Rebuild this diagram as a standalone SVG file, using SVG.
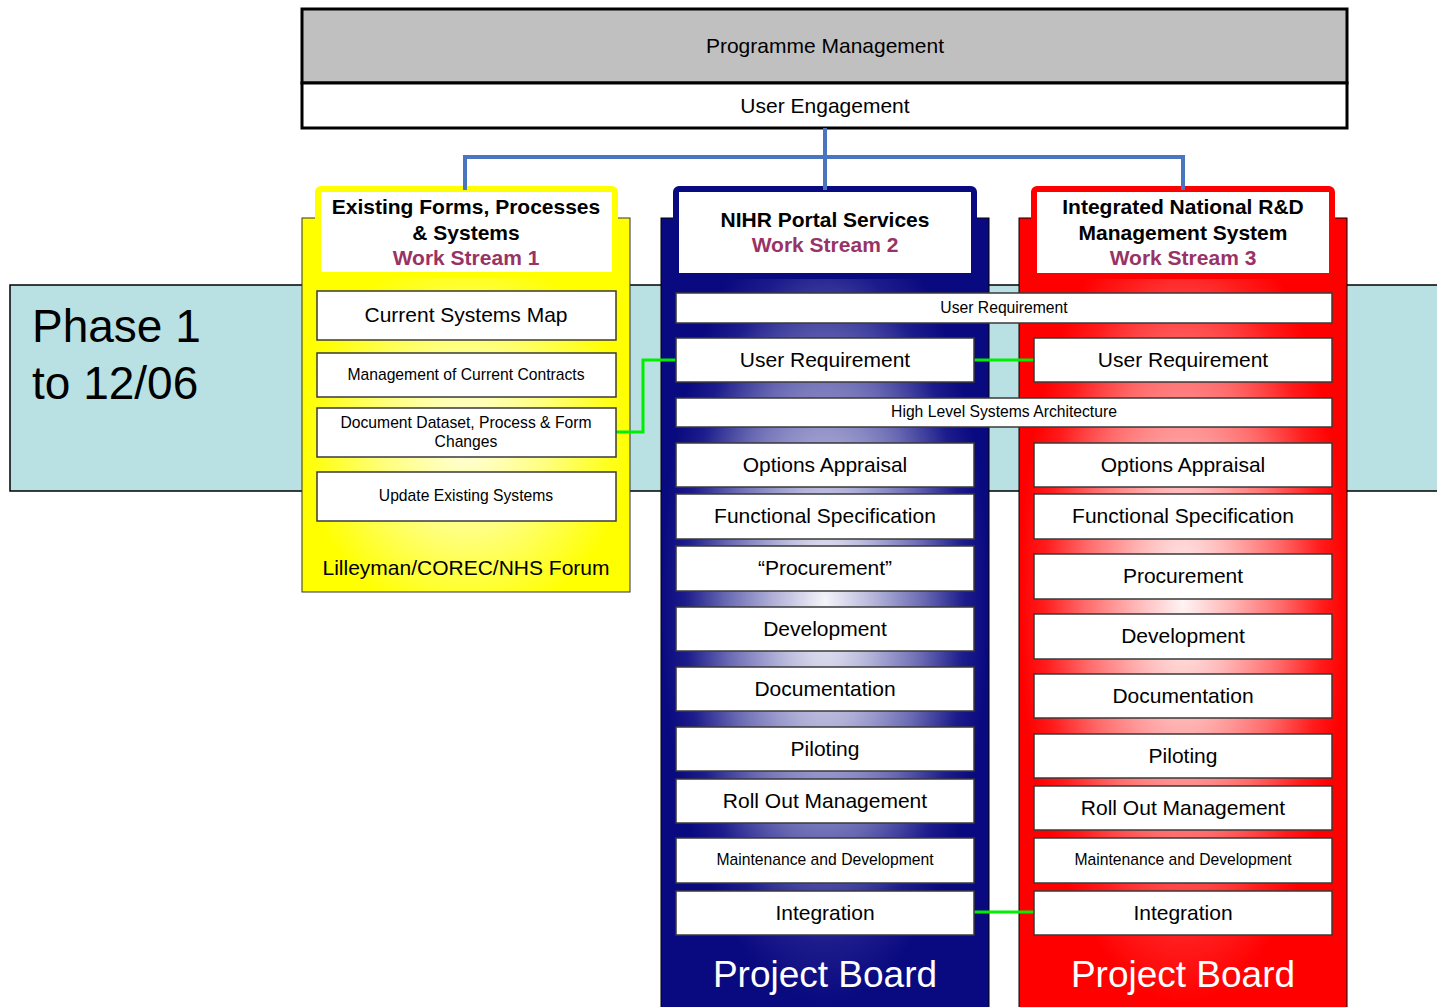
<svg xmlns="http://www.w3.org/2000/svg" width="1437" height="1007" viewBox="0 0 1437 1007">
<style>
text{font-family:"Liberation Sans",Arial,sans-serif;text-anchor:middle;dominant-baseline:central;fill:#000}
.item{fill:#fff;stroke:#3a3a3a;stroke-width:1.5}
.big{font-size:21px}
.sm{font-size:15.7px}
.hd{font-size:21px;font-weight:bold}
.ws{font-size:21px;font-weight:bold;fill:#993366}
.pb{font-size:37px;fill:#fff}
.conn{fill:none;stroke:#00ee00;stroke-width:3}
</style>
<defs>
<radialGradient id="gb" cx="0.5" cy="0.48" r="0.5">
<stop offset="0" stop-color="#f4f4fa"/>
<stop offset="0.3" stop-color="#b4b4da"/>
<stop offset="0.6" stop-color="#6a6ab4"/>
<stop offset="0.85" stop-color="#1c1c8c"/>
<stop offset="1" stop-color="#0a0a80"/>
</radialGradient>
<radialGradient id="gr" cx="0.5" cy="0.48" r="0.5">
<stop offset="0" stop-color="#fff4f4"/>
<stop offset="0.3" stop-color="#ffb4b4"/>
<stop offset="0.6" stop-color="#ff6a6a"/>
<stop offset="0.85" stop-color="#ff1c1c"/>
<stop offset="1" stop-color="#ff0000"/>
</radialGradient>
<radialGradient id="gy" cx="0.5" cy="0.59" r="0.5">
<stop offset="0" stop-color="#ffffe0"/>
<stop offset="0.5" stop-color="#ffff80"/>
<stop offset="1" stop-color="#ffff00"/>
</radialGradient>
</defs>

<g id="phase">
<rect x="10" y="285" width="1440" height="206" fill="#b9e0e3" stroke="#000" stroke-width="1.5"/>
<text x="32" y="326" style="font-size:46px;text-anchor:start">Phase 1</text>
<text x="32" y="383" style="font-size:46px;text-anchor:start">to 12/06</text>
</g>

<g id="programme">
<rect x="302" y="9" width="1045" height="74" fill="#c0c0c0" stroke="#000" stroke-width="3"/>
<text x="825" y="45" class="big">Programme Management</text>
</g>
<g id="engagement">
<rect x="302" y="83" width="1045" height="45" fill="#fff" stroke="#000" stroke-width="3"/>
<text x="825" y="105" class="big">User Engagement</text>
</g>

<g id="stream1">
<rect x="302" y="218" width="328" height="374" fill="url(#gy)" stroke="#333" stroke-width="1"/>
<rect x="318" y="189" width="297" height="86" rx="3" fill="#fff" stroke="#ffff00" stroke-width="6"/>
<text x="466" y="206" class="hd">Existing Forms, Processes</text>
<text x="466" y="232" class="hd">&amp; Systems</text>
<text x="466" y="257" class="ws">Work Stream 1</text>
<text x="466" y="567" class="big">Lilleyman/COREC/NHS Forum</text>
</g>

<g id="stream2">
<rect x="661" y="218" width="328" height="800" fill="url(#gb)" stroke="#000" stroke-width="1"/>
<rect x="676" y="189" width="298" height="87" rx="3" fill="#fff" stroke="#0a0a80" stroke-width="6"/>
<text x="825" y="219" class="hd">NIHR Portal Services</text>
<text x="825" y="244" class="ws">Work Stream 2</text>
<text x="825" y="974" class="pb">Project Board</text>
</g>

<g id="stream3">
<rect x="1019" y="218" width="328" height="800" fill="url(#gr)" stroke="#000" stroke-width="1"/>
<rect x="1034" y="189" width="298" height="87" rx="3" fill="#fff" stroke="#ff0000" stroke-width="6"/>
<text x="1183" y="206" class="hd">Integrated National R&amp;D</text>
<text x="1183" y="232" class="hd">Management System</text>
<text x="1183" y="257" class="ws">Work Stream 3</text>
<text x="1183" y="974" class="pb">Project Board</text>
</g>

<g id="connectors">
<path d="M825 128 V157 M465 190 V157 H1183 V190 M825 157 V190" fill="none" stroke="#4a76c0" stroke-width="4"/>
<path class="conn" d="M616 432 H643 V360 H676"/>
<path class="conn" d="M974 360 H1034"/>
<path class="conn" d="M974 912 H1034"/>
</g>

<g id="s1-csm"><rect class="item" x="317" y="291" width="299" height="49"/><text x="466" y="314.5" class="big">Current Systems Map</text></g>
<g id="s1-mcc"><rect class="item" x="317" y="353" width="299" height="44"/><text x="466" y="374" class="sm">Management of Current Contracts</text></g>
<g id="s1-ddp"><rect class="item" x="317" y="408" width="299" height="49"/><text x="466" y="422" class="sm">Document Dataset, Process &amp; Form</text><text x="466" y="441" class="sm">Changes</text></g>
<g id="s1-ues"><rect class="item" x="317" y="472" width="299" height="49"/><text x="466" y="495.5" class="sm">Update Existing Systems</text></g>

<g id="shared-ur"><rect class="item" x="676" y="293" width="656" height="30"/><text x="1004" y="307" class="sm">User Requirement</text></g>
<g id="shared-hlsa"><rect class="item" x="676" y="398" width="656" height="29"/><text x="1004" y="411.5" class="sm">High Level Systems Architecture</text></g>

<g id="s2-ur"><rect class="item" x="676" y="338" width="298" height="44"/><text x="825" y="359" class="big">User Requirement</text></g>
<g id="s2-oa"><rect class="item" x="676" y="443" width="298" height="44"/><text x="825" y="464" class="big">Options Appraisal</text></g>
<g id="s2-fs"><rect class="item" x="676" y="494" width="298" height="45"/><text x="825" y="515.5" class="big">Functional Specification</text></g>
<g id="s2-proc"><rect class="item" x="676" y="546" width="298" height="45"/><text x="825" y="567.5" class="big">“Procurement”</text></g>
<g id="s2-dev"><rect class="item" x="676" y="607" width="298" height="44"/><text x="825" y="628" class="big">Development</text></g>
<g id="s2-doc"><rect class="item" x="676" y="667" width="298" height="44"/><text x="825" y="688" class="big">Documentation</text></g>
<g id="s2-pil"><rect class="item" x="676" y="727" width="298" height="44"/><text x="825" y="748" class="big">Piloting</text></g>
<g id="s2-rom"><rect class="item" x="676" y="779" width="298" height="44"/><text x="825" y="800" class="big">Roll Out Management</text></g>
<g id="s2-md"><rect class="item" x="676" y="838" width="298" height="45"/><text x="825" y="859.5" class="sm">Maintenance and Development</text></g>
<g id="s2-int"><rect class="item" x="676" y="891" width="298" height="44"/><text x="825" y="912" class="big">Integration</text></g>

<g id="s3-ur"><rect class="item" x="1034" y="338" width="298" height="44"/><text x="1183" y="359" class="big">User Requirement</text></g>
<g id="s3-oa"><rect class="item" x="1034" y="443" width="298" height="44"/><text x="1183" y="464" class="big">Options Appraisal</text></g>
<g id="s3-fs"><rect class="item" x="1034" y="494" width="298" height="45"/><text x="1183" y="515.5" class="big">Functional Specification</text></g>
<g id="s3-proc"><rect class="item" x="1034" y="554" width="298" height="45"/><text x="1183" y="575.5" class="big">Procurement</text></g>
<g id="s3-dev"><rect class="item" x="1034" y="614" width="298" height="45"/><text x="1183" y="635.5" class="big">Development</text></g>
<g id="s3-doc"><rect class="item" x="1034" y="674" width="298" height="44"/><text x="1183" y="695" class="big">Documentation</text></g>
<g id="s3-pil"><rect class="item" x="1034" y="734" width="298" height="44"/><text x="1183" y="755" class="big">Piloting</text></g>
<g id="s3-rom"><rect class="item" x="1034" y="786" width="298" height="44"/><text x="1183" y="807" class="big">Roll Out Management</text></g>
<g id="s3-md"><rect class="item" x="1034" y="838" width="298" height="45"/><text x="1183" y="859.5" class="sm">Maintenance and Development</text></g>
<g id="s3-int"><rect class="item" x="1034" y="891" width="298" height="44"/><text x="1183" y="912" class="big">Integration</text></g>
</svg>
